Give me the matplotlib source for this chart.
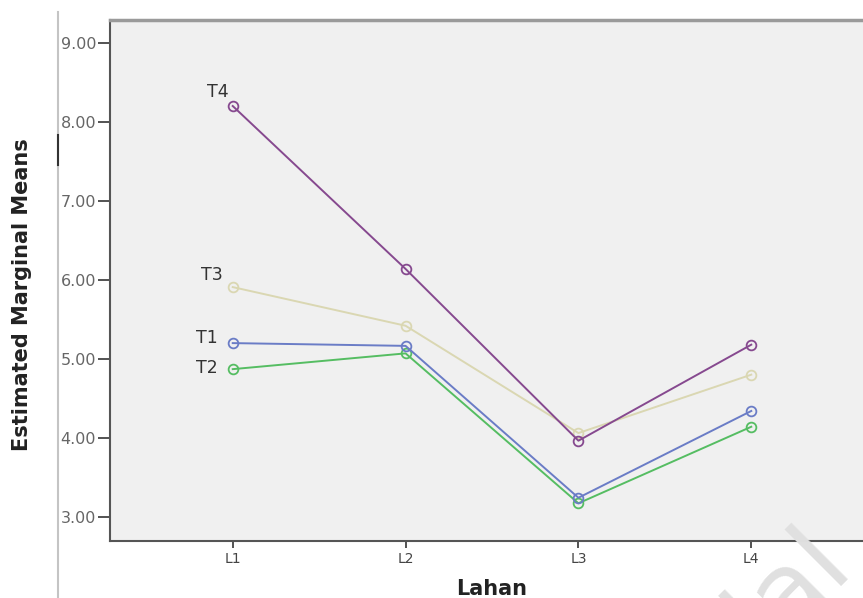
import matplotlib
matplotlib.use("Agg")
import matplotlib.pyplot as plt
from matplotlib.lines import Line2D

categories = ["L1", "L2", "L3", "L4"]
series_names = ["T1", "T2", "T3", "T4"]
t1 = [5.20, 5.165, 3.24, 4.34]
t2 = [4.87, 5.07, 3.17, 4.14]
t3 = [5.91, 5.42, 4.06, 4.80]
t4 = [8.205, 6.14, 3.963, 5.18]
y_ticks = [3.0, 4.0, 5.0, 6.0, 7.0, 8.0, 9.0]
y_tick_labels = ["3.00", "4.00", "5.00", "6.00", "7.00", "8.00", "9.00"]

colors = {"T1": "#6a7cc6", "T2": "#55bd62", "T3": "#dad7b2", "T4": "#86498f"}
label_offsets = {"T4": (-10.8, 10.0), "T3": (-15.0, 8.6), "T1": (-18.7, 3.6), "T2": (-18.7, 0.7)}

W, H = 863, 598
fig = plt.figure(figsize=(W / 100, H / 100), dpi=100)
fig.patch.set_facecolor("white")

fig.text(788 / W, 1 - 588 / H, "ial", rotation=45, ha="center", va="center",
         fontsize=76, color="#e0e0e0", zorder=0)

ax = fig.add_axes([110 / W, 1 - 541 / H, (874 - 110) / W, (541 - 20) / H])
ax.set_facecolor("#f0f0f0")

x = list(range(len(categories)))
data = {"T1": t1, "T2": t2, "T3": t3, "T4": t4}
for name in ["T3", "T2", "T1", "T4"]:
    vals = data[name]
    ax.plot(x, vals, color=colors[name], lw=1.4, marker="o", ms=7,
            mfc="none", mec=colors[name], mew=1.3, zorder=3)
    ax.annotate(name, xy=(x[0], vals[0]), xytext=label_offsets[name],
                textcoords="offset points", ha="center", va="center",
                fontsize=12.5, color="#333333")

ax.set_xlim(-0.71, 3.71)
ax.set_ylim(2.692, 9.295)
ax.set_xticks(x)
ax.set_xticklabels(categories)
ax.set_yticks(y_ticks)
ax.set_yticklabels(y_tick_labels)

for side in ["left", "bottom", "top", "right"]:
    ax.spines[side].set_color("#555555")
    ax.spines[side].set_linewidth(1.5)
ax.spines["top"].set_color("#9a9a9a")
ax.spines["top"].set_linewidth(2.5)

ax.tick_params(axis="y", direction="out", length=9, width=1.3, color="#444444",
               pad=1, labelsize=11.5, labelcolor="#666666")
ax.tick_params(axis="x", direction="out", length=5, width=1.3, color="#444444",
               pad=3, labelsize=10, labelcolor="#444444")

ax.set_xlabel("Lahan", fontsize=15, fontweight="bold", color="#222222", labelpad=9)

fig.text(22 / W, 1 - 295 / H, "Estimated Marginal Means", rotation=90,
         ha="center", va="center", fontsize=15, fontweight="bold",
         color="#222222")

fig.add_artist(Line2D([58 / W, 58 / W], [0, 1 - 12 / H], transform=fig.transFigure,
                      color="#c4c4c4", lw=1.5))
fig.add_artist(Line2D([58 / W, 58 / W], [1 - 135 / H, 1 - 165 / H],
                      transform=fig.transFigure, color="#333333", lw=1.5))

fig.savefig("out.png", dpi=100)
